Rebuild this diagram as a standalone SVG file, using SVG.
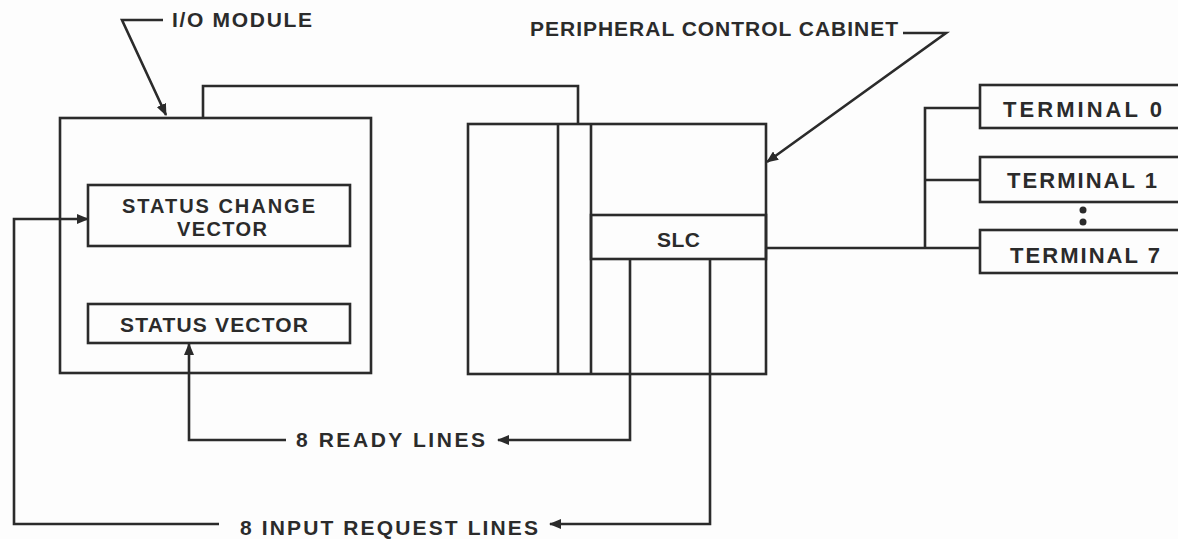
<svg xmlns="http://www.w3.org/2000/svg" width="1178" height="539" viewBox="0 0 1178 539">
<defs>
<marker id="ah" viewBox="0 0 12 10" refX="11" refY="5" markerWidth="12" markerHeight="10" markerUnits="userSpaceOnUse" orient="auto">
<path d="M0,0 L12,5 L0,10 Z" fill="#2b2b2b"/>
</marker>
<style>
.ln{fill:none;stroke:#2b2b2b;stroke-width:2.6;stroke-linejoin:miter}
.bx{fill:none;stroke:#2b2b2b;stroke-width:2.6}
.t{font-family:"Liberation Sans",Arial,sans-serif;font-weight:bold;font-size:21px;fill:#2b2b2b}
.tt{font-size:22px}
.ts{font-size:20px}
</style>
</defs>
<rect x="0" y="0" width="1178" height="539" fill="#fdfdfd"/>

<g id="io-module">
<rect class="bx" x="60" y="118" width="311" height="255"/>
<text class="t" x="172" y="27" textLength="140" lengthAdjust="spacing">I/O MODULE</text>
</g>

<g id="status-change-vector">
<rect class="bx" x="88" y="185" width="262" height="61"/>
<text class="t ts" x="122" y="213" textLength="193" lengthAdjust="spacing">STATUS CHANGE</text>
<text class="t ts" x="177" y="236" textLength="90" lengthAdjust="spacing">VECTOR</text>
</g>

<g id="status-vector">
<rect class="bx" x="88" y="304" width="262" height="39"/>
<text class="t" x="120" y="332" textLength="188" lengthAdjust="spacing">STATUS VECTOR</text>
</g>

<g id="peripheral-control-cabinet">
<rect class="bx" x="468" y="124" width="298" height="250"/>
<line class="ln" x1="558" y1="124" x2="558" y2="374"/>
<line class="ln" x1="591" y1="124" x2="591" y2="374"/>
<text class="t" x="530" y="36" textLength="368" lengthAdjust="spacing">PERIPHERAL CONTROL CABINET</text>
</g>

<g id="slc">
<rect class="bx" x="591" y="215" width="175" height="44"/>
<text class="t" x="657" y="247" textLength="43" lengthAdjust="spacing">SLC</text>
</g>

<g id="terminal-0">
<rect class="bx" x="980" y="85" width="220" height="43"/>
<text class="t tt" x="1003" y="117" textLength="159" lengthAdjust="spacing">TERMINAL 0</text>
</g>
<g id="terminal-1">
<rect class="bx" x="980" y="157" width="220" height="45"/>
<text class="t tt" x="1007" y="188" textLength="150" lengthAdjust="spacing">TERMINAL 1</text>
</g>
<g id="terminal-ellipsis">
<circle cx="1083" cy="210" r="3.5" fill="#2b2b2b"/>
<circle cx="1083" cy="222" r="3.5" fill="#2b2b2b"/>
</g>
<g id="terminal-7">
<rect class="bx" x="980" y="230" width="220" height="43"/>
<text class="t tt" x="1010" y="263" textLength="150" lengthAdjust="spacing">TERMINAL 7</text>
</g>

<g id="labels">
<text class="t" x="296" y="447" textLength="189" lengthAdjust="spacing">8 READY LINES</text>
<text class="t" x="240" y="535" textLength="298" lengthAdjust="spacing">8 INPUT REQUEST LINES</text>
</g>

<g id="connectors">
<path class="ln" d="M163,20 H122 L166,115" marker-end="url(#ah)"/>
<path class="ln" d="M903,33 H946 L767,162" marker-end="url(#ah)"/>
<path class="ln" d="M203,118 V86 H578 V124"/>
<path class="ln" d="M630,259 V440 H498" marker-end="url(#ah)"/>
<path class="ln" d="M286,440 H189 V344" marker-end="url(#ah)"/>
<path class="ln" d="M710,259 V524 H550" marker-end="url(#ah)"/>
<path class="ln" d="M219,524 H14 V219 H88" marker-end="url(#ah)"/>
<path class="ln" d="M766,248 H980"/>
<path class="ln" d="M925,248 V108 H980"/>
<path class="ln" d="M925,180 H980"/>
</g>
</svg>
